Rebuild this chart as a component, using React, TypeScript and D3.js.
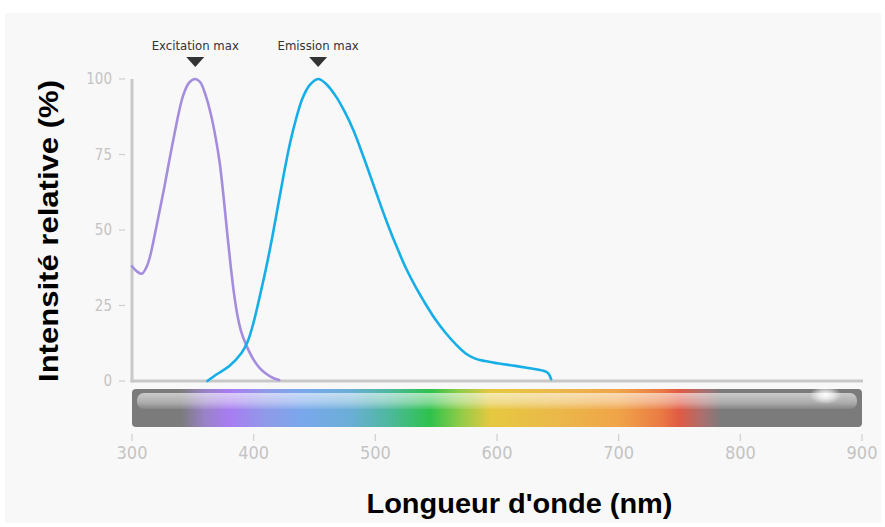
import React from "react";
import * as d3 from "d3";

const excitationNm = [300, 304, 308, 312, 315, 320, 326, 334, 342, 347, 352, 356, 361, 365, 369, 372, 375, 378, 381, 384, 387, 390, 394, 400, 405, 410, 416, 421];
const excitationVal = [38, 36.3, 35.5, 37.8, 41.5, 51, 63, 80, 94.5, 98.8, 100, 99, 94, 88, 80, 72.5, 62, 50, 38.5, 28.5, 21, 16, 11.8, 7, 4.3, 2.5, 1.0, 0.3];

const emissionNm = [362, 370, 380, 390, 395, 400, 405, 410, 415, 420, 425, 430, 435, 440, 446, 453, 460, 468, 475, 482, 490, 498, 505, 511, 518, 525, 534, 542, 550, 558, 566, 574, 582, 590, 600, 615, 627, 638, 642, 644.5];
const emissionVal = [0, 2.3, 5, 9.3, 13, 19.5, 28, 37, 47, 58, 69, 79, 87, 93.5, 98, 100, 98.2, 94, 89, 83, 74.5, 65.5, 57.5, 51, 44, 37.5, 30.5, 25, 20, 15.8, 12.2, 9.2, 7.4, 6.6, 5.9, 5, 4.2, 3.4, 2.6, 0.6];

const xTicks = [300, 400, 500, 600, 700, 800, 900];
const yTicks = [0, 25, 50, 75, 100];

const markers = [
  { label: "Excitation max", nm: 352 },
  { label: "Emission max", nm: 453 },
];

const spectrumNm = [300, 340, 360, 380, 410, 440, 480, 510, 545, 570, 595, 650, 700, 735, 750, 770, 785, 900];
const spectrumColor = ["#7b7b7b", "#7b7b7b", "#9a82c8", "#a87cf2", "#8f9ae8", "#7aa8ec", "#6aaed6", "#4fb8a0", "#2ec24c", "#90cc48", "#e6c840", "#ebb84a", "#f0a448", "#ea7a44", "#e05a44", "#a87070", "#7b7b7b", "#7b7b7b"];

const condensed = "'Liberation Sans Narrow', 'DejaVu Sans Condensed', 'Roboto', sans-serif";
const bold = "'Liberation Sans', Arial, sans-serif";

export default function App() {
  const x = d3.scaleLinear().domain([300, 900]).range([132, 862]);
  const y = d3.scaleLinear().domain([0, 100]).range([381, 79]);

  const line = d3
    .line<[number, number]>()
    .x((d) => x(d[0]))
    .y((d) => y(d[1]))
    .curve(d3.curveCatmullRom.alpha(0.5));

  const exc = line(excitationNm.map((n, i) => [n, excitationVal[i]]) as [number, number][]);
  const emi = line(emissionNm.map((n, i) => [n, emissionVal[i]]) as [number, number][]);

  const off = d3.scaleLinear().domain([300, 900]).range([0, 100]);

  const barTop = 389;
  const barBottom = 427;

  return (
    <svg
      width={885}
      height={527}
      style={{ position: "absolute", left: 0, top: 0, background: "#ffffff" }}
    >
      <defs>
        <linearGradient id="spec" x1="0" x2="1" y1="0" y2="0">
          {spectrumNm.map((n, i) => (
            <stop key={i} offset={`${off(n)}%`} stopColor={spectrumColor[i]} />
          ))}
        </linearGradient>
        <linearGradient id="hl" x1="0" x2="0" y1="0" y2="1">
          <stop offset="0%" stopColor="#ffffff" stopOpacity={0.6} />
          <stop offset="60%" stopColor="#ffffff" stopOpacity={0.38} />
          <stop offset="100%" stopColor="#ffffff" stopOpacity={0.08} />
        </linearGradient>
        <radialGradient id="glow">
          <stop offset="0%" stopColor="#ffffff" stopOpacity={1} />
          <stop offset="45%" stopColor="#ffffff" stopOpacity={0.65} />
          <stop offset="100%" stopColor="#ffffff" stopOpacity={0} />
        </radialGradient>
      </defs>
      <rect x={5} y={13} width={876} height={510} fill="#f8f8f8" />

      {/* y ticks */}
      {yTicks.map((t) => (
        <g key={t}>
          <line x1={119} x2={125} y1={y(t)} y2={y(t)} stroke="#cfcfcf" strokeWidth={1.2} />
          <text
            x={112}
            y={y(t)}
            dy="0.35em"
            textAnchor="end"
            fontFamily={condensed}
            fontSize={15}
            fill="#c4c4c4"
          >
            {t}
          </text>
        </g>
      ))}

      {/* axes */}
      <line x1={132} x2={132} y1={y(100)} y2={y(0) + 1.5} stroke="#c8c8c8" strokeWidth={3} />
      <line x1={130.5} x2={863} y1={y(0)} y2={y(0)} stroke="#c8c8c8" strokeWidth={3} />

      {/* spectrum bar */}
      <rect x={x(300)} y={barTop} width={x(900) - x(300)} height={barBottom - barTop} rx={4} fill="url(#spec)" />
      <rect x={x(300) + 5} y={barTop + 4} width={x(900) - x(300) - 10} height={16} rx={7} fill="url(#hl)" />
      <ellipse cx={x(870)} cy={barTop + 6} rx={16} ry={9} fill="url(#glow)" />

      {/* x ticks */}
      {xTicks.map((t) => (
        <g key={t}>
          <line x1={x(t)} x2={x(t)} y1={434} y2={441} stroke="#cfcfcf" strokeWidth={1.2} />
          <text
            x={x(t)}
            y={459}
            textAnchor="middle"
            fontFamily={condensed}
            fontSize={18}
            fill="#c4c4c4"
          >
            {t}
          </text>
        </g>
      ))}

      {/* curves */}
      <path d={exc ?? ""} fill="none" stroke="#a48ddc" strokeWidth={2.6} strokeLinecap="round" />
      <path d={emi ?? ""} fill="none" stroke="#15aee8" strokeWidth={2.6} strokeLinecap="round" />

      {/* markers */}
      {markers.map((m) => (
        <g key={m.label}>
          <text
            x={x(m.nm)}
            y={50}
            textAnchor="middle"
            fontFamily={condensed}
            fontSize={13}
            fill="#333333"
          >
            {m.label}
          </text>
          <path
            d={`M${x(m.nm) - 9},57 L${x(m.nm) + 9},57 L${x(m.nm)},67 Z`}
            fill="#333333"
          />
        </g>
      ))}

      {/* titles */}
      <text
        x={519.5}
        y={513}
        textAnchor="middle"
        fontFamily={bold}
        fontWeight="bold"
        fontSize={28}
        textLength={306}
        lengthAdjust="spacingAndGlyphs"
        fill="#000000"
      >
        Longueur d'onde (nm)
      </text>
      <text
        transform={`translate(58,${(y(0) + y(100)) / 2 + 1}) rotate(-90)`}
        textAnchor="middle"
        fontFamily={bold}
        fontWeight="bold"
        fontSize={28}
        textLength={302}
        lengthAdjust="spacingAndGlyphs"
        fill="#000000"
      >
        Intensité relative (%)
      </text>
    </svg>
  );
}
